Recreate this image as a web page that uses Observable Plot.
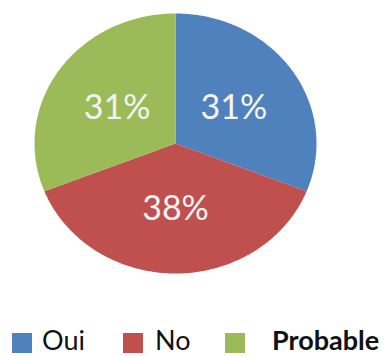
<!DOCTYPE html>
<html>
<head>
<meta charset="utf-8">
<script src="https://cdn.jsdelivr.net/npm/d3@7"></script>
<script src="https://cdn.jsdelivr.net/npm/@observablehq/plot@0.6"></script>
<style>
  html, body { margin: 0; padding: 0; background: #fff; }
  body { position: relative; width: 388px; height: 356px; overflow: hidden; font-family: Lato, "Open Sans", sans-serif; }
  #chart svg { display: block; }
  #legend { position: absolute; left: 0; top: 290px; width: 388px; height: 66px; }
  .sw { position: absolute; width: 20px; height: 20px; top: 43px; }
  .lab { position: absolute; top: 36px; font-size: 27px; line-height: 27px; color: #111; white-space: nowrap; }
</style>
</head>
<body>
<div id="chart"></div>
<div id="legend"></div>
<script>
const categories = ["Oui", "No", "Probable"];
const values = [31, 38, 31];
const labels = ["31%", "38%", "31%"];
const colors = ["#4f81bd", "#c0504d", "#9bbb59"];

const total = d3.sum(values);
const slices = [];
const labelPts = [];
let start = 0;
categories.forEach((c, i) => {
  const a0 = start * 2 * Math.PI / total;
  const a1 = (start + values[i]) * 2 * Math.PI / total;
  slices.push({cat: c, x: 0, y: 0});
  const n = Math.max(2, Math.ceil((a1 - a0) / (Math.PI / 180)));
  for (let k = 0; k <= n; k++) {
    const a = a0 + (a1 - a0) * k / n;
    slices.push({cat: c, x: Math.sin(a), y: Math.cos(a)});
  }
  slices.push({cat: c, x: 0, y: 0});
  const am = (a0 + a1) / 2;
  labelPts.push({cat: c, label: labels[i], x: 0.5 * Math.sin(am), y: 0.5 * Math.cos(am)});
  start += values[i];
});

const chart = Plot.plot({
  width: 388,
  height: 290,
  marginLeft: 34,
  marginRight: 72,
  marginTop: 13,
  marginBottom: 17,
  x: {domain: [-1, 1], axis: null},
  y: {domain: [-1, 1], axis: null},
  color: {domain: categories, range: colors},
  marks: [
    Plot.line(slices, {x: "x", y: "y", z: "cat", fill: "cat", stroke: "none", curve: "linear"}),
    Plot.text(labelPts, {x: "x", y: "y", text: "label", fill: "#f4f4f4", fontSize: 34, fontFamily: "Lato, 'Open Sans', sans-serif", dy: 1})
  ]
});
document.getElementById("chart").appendChild(chart);

const legend = document.getElementById("legend");
const swatchX = [12, 123, 225];
const labelX = [42, 155, 272];
const weights = ["normal", "normal", "bold"];
categories.forEach((c, i) => {
  const sw = document.createElement("div");
  sw.className = "sw";
  sw.style.left = swatchX[i] + "px";
  sw.style.background = colors[i];
  legend.appendChild(sw);
  const lab = document.createElement("div");
  lab.className = "lab";
  lab.style.left = labelX[i] + "px";
  lab.style.fontWeight = weights[i];
  lab.textContent = c;
  legend.appendChild(lab);
});
</script>
</body>
</html>
